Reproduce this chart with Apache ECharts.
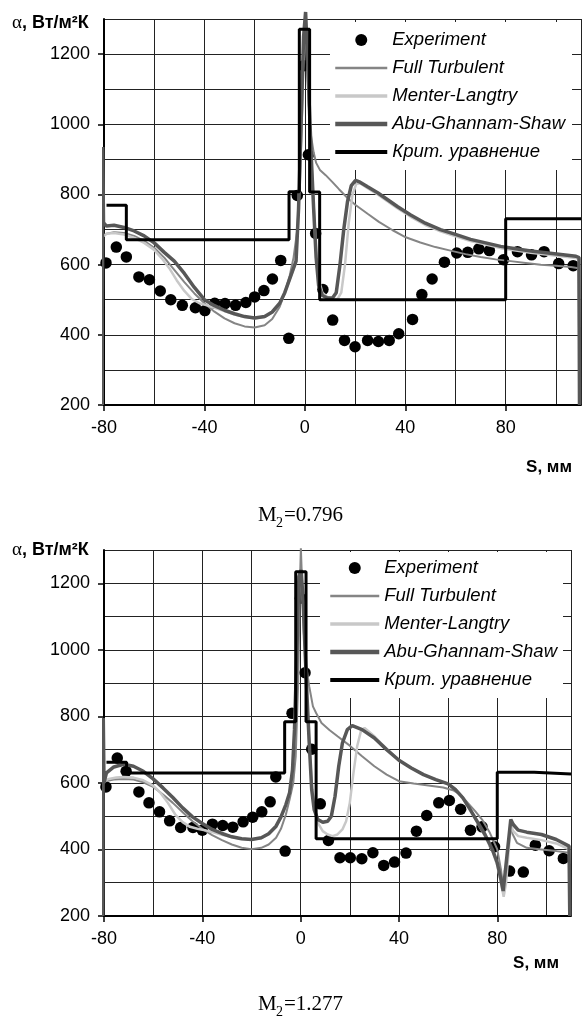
<!DOCTYPE html>
<html>
<head>
<meta charset="utf-8">
<script src="https://cdn.jsdelivr.net/npm/echarts@6/dist/echarts.min.js"></script>
<style>
	body { margin: 0; background: #fff; }
	#main { width: 582px; height: 1017px; }
</style>
</head>
<body>
<div id="main"></div>
<script>
// ===== M2 = 0.796 =====
var exp1S = [-79.2, -75.1, -71.1, -66.1, -61.9, -57.6, -53.4, -48.8, -43.6, -39.8, -35.9, -31.8, -27.6, -23.5, -20.0, -16.3, -12.9, -9.6, -6.4, -3.0,
	-0.4, 1.4, 4.3, 7.2, 11.1, 15.8, 20.0, 25.0, 29.3, 33.6, 37.4, 42.9, 46.6, 50.7, 55.6, 60.5, 64.9, 69.3, 73.5, 79.1, 84.7, 90.3, 95.3, 101.1, 106.9];
var exp1V = [605, 650, 622, 565, 557, 525, 500, 484, 477, 469, 490, 489, 484, 492, 508, 526, 559, 612, 390, 797,
	1167, 913, 689, 529, 442, 384, 366, 384, 381, 384, 403, 444, 515, 559, 607, 633, 635, 645, 640, 614, 637, 628, 637, 603, 597];

var ft1 = [[-80.5, 200], [-80.3, 680], [-79, 688], [-76, 692], [-72, 690], [-68, 682], [-64, 668], [-60, 648], [-56, 620], [-52, 585], [-48, 550],
	[-44, 518], [-40, 490], [-36, 466], [-32, 447], [-28, 433], [-24, 424], [-20, 421], [-16, 427], [-13, 445], [-10, 480], [-8, 520], [-6, 570],
	[-4.5, 620], [-3, 700], [-2, 820], [-1, 1050], [-0.3, 1250], [0.2, 1315], [0.8, 1200], [1.5, 1060], [2.3, 975], [3.5, 920], [4.5, 890], [6, 870],
	[8.3, 855], [11, 835], [13.6, 815], [17, 790], [20.2, 770], [25, 745], [29.5, 722], [35, 698], [40.2, 678], [46, 663], [52, 650], [58, 640],
	[64, 630], [70, 622], [76, 615], [82, 610], [88, 605], [94, 600], [100, 597], [106, 593], [109, 590], [109.4, 200]];

var ml1 = [[-82.3, 300], [-82, 420], [-81.5, 640], [-80.5, 680], [-79, 688], [-76, 690], [-72, 686], [-68, 676], [-64, 662], [-60, 642], [-57, 618],
	[-54, 590], [-51, 555], [-48, 525], [-45, 502], [-42, 490], [-39, 484], [-36, 477], [-32, 468], [-28, 458], [-24, 451], [-20, 447], [-16, 451],
	[-13, 464], [-10, 488], [-8, 518], [-6, 558], [-4.5, 588], [-3.5, 608], [-2.5, 760], [-1.5, 990], [-0.5, 1230], [0.3, 1290], [1, 1180],
	[1.8, 1040], [2.6, 900], [3.5, 770], [4.5, 640], [5.5, 560], [7, 520], [9, 508], [11, 502], [13, 502], [14.5, 520], [16, 600], [17.5, 720],
	[19, 800], [20.5, 830], [22, 832], [25, 818], [29, 800], [33, 780], [37, 760], [42, 737], [48, 713], [54, 695], [60, 681], [66, 667],
	[72, 657], [78, 647], [84, 640], [90, 634], [96, 629], [102, 624], [108, 619], [109.2, 615], [109.4, 200]];

var abu1 = [[-80.8, 200], [-80.5, 935], [-80.2, 720], [-79, 710], [-76, 712], [-72, 706], [-68, 696], [-64, 682], [-60, 662], [-56, 635], [-52, 610],
	[-48, 575], [-44, 535], [-40, 500], [-36, 483], [-32, 470], [-28, 460], [-24, 452], [-20, 448], [-16, 452], [-13, 465], [-10, 490], [-8, 520],
	[-6, 560], [-4.5, 590], [-3.5, 610], [-2.5, 760], [-1.5, 1000], [-0.5, 1250], [0.3, 1320], [1, 1200], [1.8, 1050], [2.6, 900], [3.5, 760],
	[4.5, 620], [5.5, 540], [7, 512], [9, 505], [11, 505], [12.5, 520], [14, 600], [15.5, 700], [17, 780], [18.5, 825], [20.2, 840], [22, 835],
	[25, 822], [29, 805], [33, 785], [37, 765], [42, 742], [48, 718], [54, 700], [60, 686], [66, 672], [72, 662], [78, 652], [84, 645], [90, 639],
	[96, 634], [102, 629], [108, 624], [109.2, 620], [109.4, 200]];

// ступеньки: значение действует от точки до следующей
var crit1 = [[-79, 769], [-71.1, 671], [-6.3, 808], [-2.2, 1271], [1.9, 807], [5.9, 500], [80, 731], [110, 731]];

// ===== M2 = 1.277 =====
var exp2S = [-79.2, -74.6, -71.0, -65.8, -61.7, -57.4, -53.3, -48.8, -43.8, -40.0, -35.9, -31.7, -27.6, -23.4, -19.5, -15.8, -12.4, -10.1, -6.3, -3.5,
	-0.1, 1.8, 4.5, 8.0, 11.3, 16.0, 20.2, 24.9, 29.4, 33.8, 38.2, 42.9, 47.1, 51.3, 56.2, 60.5, 65.1, 69.1, 73.8, 78.9, 85.0, 90.6, 95.5, 101.1, 106.9];
var exp2V = [588, 675, 635, 573, 540, 513, 486, 466, 466, 458, 476, 472, 467, 483, 497, 513, 543, 618, 395, 809,
	1155, 931, 701, 537, 427, 375, 375, 372, 390, 352, 362, 389, 455, 502, 540, 547, 521, 458, 468, 408, 335, 332, 413, 396, 373];

var ft2 = [[-81.8, 200], [-81.5, 560], [-80.5, 600], [-79, 606], [-76, 610], [-72, 612], [-68, 610], [-64, 602], [-60, 588], [-56, 565], [-52, 540],
	[-48, 512], [-44, 485], [-40, 462], [-36, 443], [-32, 428], [-28, 415], [-24, 405], [-20, 401], [-16, 405], [-13, 415], [-10, 435], [-8, 462],
	[-6, 505], [-4.5, 550], [-3, 600], [-2, 680], [-1, 900], [-0.3, 1200], [0.1, 1305], [0.6, 1200], [1.3, 1050], [2.3, 950], [3.5, 890], [5, 830],
	[6.3, 810], [8.5, 780], [11.7, 759], [15, 740], [20, 712], [25, 680], [30, 650], [35, 625], [40, 605], [46, 598], [52, 592], [58, 586],
	[62, 578], [65, 565], [68, 540], [71, 515], [74, 488], [77, 450], [80, 400], [81.5, 340], [82.5, 285], [83.5, 330], [85.2, 470], [86, 450],
	[88, 420], [92, 405], [98, 400], [104, 395], [109.2, 390], [109.5, 200]];

var ml2 = [[-82, 200], [-81.8, 450], [-81, 590], [-80, 605], [-78, 612], [-75, 616], [-72, 618], [-68, 616], [-64, 608], [-60, 592], [-57, 570],
	[-54, 540], [-51, 505], [-48, 482], [-45, 468], [-42, 462], [-39, 458], [-36, 452], [-32, 444], [-28, 437], [-24, 432], [-20, 430], [-16, 434],
	[-13, 446], [-10, 468], [-8, 496], [-6, 532], [-4.5, 566], [-3.3, 636], [-2.5, 750], [-1.5, 990], [-0.7, 1200], [0.2, 1225], [1, 1140],
	[1.8, 990], [2.6, 850], [3.5, 720], [4.5, 600], [5.5, 530], [7, 480], [9, 455], [11, 445], [13, 440], [15, 445], [17, 460], [18.5, 485],
	[20, 540], [21.5, 630], [23, 710], [24.5, 755], [26, 765], [30, 740], [35, 702], [40, 668], [45, 645], [50, 625], [55, 610], [60, 597],
	[63, 582], [66, 556], [69, 520], [72, 480], [75, 440], [78, 395], [80, 352], [81.5, 300], [82.6, 258], [83.6, 300], [85.5, 475], [86.5, 455],
	[88.5, 440], [92, 435], [98, 428], [104, 418], [109.2, 400], [109.5, 200]];

var abu2 = [[-80.5, 200], [-80.3, 795], [-80, 600], [-79, 630], [-76, 648], [-72, 656], [-68, 650], [-64, 635], [-60, 612], [-56, 585], [-52, 556],
	[-48, 525], [-44, 498], [-40, 478], [-36, 460], [-32, 448], [-28, 438], [-24, 432], [-20, 430], [-16, 435], [-13, 447], [-10, 470], [-8, 498],
	[-6, 535], [-4.5, 570], [-3.3, 640], [-2.5, 760], [-1.5, 1000], [-0.7, 1220], [0.2, 1240], [1, 1150], [1.8, 1000], [2.6, 860], [3.5, 720],
	[4.5, 580], [5.5, 520], [7, 490], [9, 482], [11, 485], [12.5, 500], [14, 560], [15.5, 650], [17, 720], [19, 760], [21, 772], [25, 760],
	[30, 735], [35, 700], [40, 668], [45, 645], [50, 625], [55, 610], [60, 597], [63, 580], [66, 555], [69, 520], [72, 482], [75, 445], [78, 400],
	[80, 360], [81.5, 310], [82.4, 275], [83.5, 350], [85.5, 490], [86.5, 475], [88.5, 458], [92, 452], [98, 445], [104, 430], [109.2, 410],
	[109.5, 200]];

var crit2 = [[-79, 662], [-70.8, 630], [-6.5, 784], [-2, 1235], [2.2, 784], [6.3, 432], [80, 632], [95, 627], [110, 627]];

var names = ['Experiment', 'Full Turbulent', 'Menter-Langtry', 'Abu-Ghannam-Shaw', 'Крит. уравнение'];
var captions = ['0.796', '1.277'];

function zip(s, v) {
	var out = [];
	for (var i = 0; i < s.length; i++) {
		out.push([s[i], v[i]]);
	}
	return out;
}

// две области графиков: положение и размер
var grids = [
	{ left: 104, top: 19, width: 477, height: 386 },
	{ left: 104, top: 550, width: 467, height: 366 }
];

var gridLine = { show: true, lineStyle: { color: '#222', width: 1 } };

function plainNumber(v) {
	return String(v);
}

function xAxisFor(i) {
	return {
		gridIndex: i,
		type: 'value',
		min: -80,
		max: 110,
		interval: 40,
		axisLine: { onZero: false, lineStyle: { color: '#000', width: 2 } },
		axisTick: { show: true, length: 6, lineStyle: { color: '#000', width: 1.5 } },
		axisLabel: { color: '#000', fontSize: 18, fontFamily: 'Liberation Sans', margin: 14, showMaxLabel: false, formatter: plainNumber },
		splitLine: gridLine,
		minorSplitLine: gridLine,
		minorTick: { show: false, splitNumber: 2 }
	};
}

function yAxisFor(i) {
	return {
		gridIndex: i,
		type: 'value',
		min: 200,
		max: 1300,
		interval: 200,
		axisLine: { show: true, onZero: false, lineStyle: { color: '#000', width: 2 } },
		axisTick: { show: true, length: 6, lineStyle: { color: '#000', width: 1.5 } },
		axisLabel: { color: '#000', fontSize: 18, fontFamily: 'Liberation Sans', margin: 14, showMaxLabel: false, formatter: plainNumber },
		splitLine: gridLine,
		minorSplitLine: gridLine,
		minorTick: { show: false, splitNumber: 2 }
	};
}

function lineSeries(i, name, data, color, width) {
	return {
		name: name,
		type: 'line',
		xAxisIndex: i,
		yAxisIndex: i,
		data: data,
		symbol: 'none',
		clip: false,
		lineStyle: { color: color, width: width },
		itemStyle: { color: color }
	};
}

var sets = [
	{ exp: zip(exp1S, exp1V), ft: ft1, ml: ml1, abu: abu1, crit: crit1 },
	{ exp: zip(exp2S, exp2V), ft: ft2, ml: ml2, abu: abu2, crit: crit2 }
];

var series = [];
for (var i = 0; i < 2; i++) {
	series.push(lineSeries(i, names[1], sets[i].ft, '#858585', 2));
	series.push(lineSeries(i, names[2], sets[i].ml, '#c8c8c8', 2.5));
	series.push(lineSeries(i, names[3], sets[i].abu, '#575757', 3.5));
	var c = lineSeries(i, names[4], sets[i].crit, '#000', 3);
	c.step = 'end';
	series.push(c);
	series.push({
		name: names[0],
		type: 'scatter',
		xAxisIndex: i,
		yAxisIndex: i,
		data: sets[i].exp,
		symbol: 'circle',
		symbolSize: 11.5,
		itemStyle: { color: '#000', opacity: 1 }
	});
}

// у линий в легенде точку не показываем, образцы линий чуть толще
var noDot = { opacity: 0 };
var legendData = [
	{ name: names[0], icon: 'circle', itemStyle: { color: '#000', opacity: 1 } },
	{ name: names[1], itemStyle: noDot, lineStyle: { width: 2.5 } },
	{ name: names[2], itemStyle: noDot, lineStyle: { width: 3.5 } },
	{ name: names[3], itemStyle: noDot, lineStyle: { width: 4.5 } },
	{ name: names[4], itemStyle: noDot, lineStyle: { width: 4 } }
];

function legendFor(left, top, itemWidth, padding) {
	return {
		left: left,
		top: top,
		orient: 'vertical',
		data: legendData,
		itemWidth: itemWidth,
		itemHeight: 12,
		itemGap: 8,
		padding: padding,
		backgroundColor: '#fff',
		selectedMode: false,
		textStyle: { color: '#000', fontSize: 18.5, fontStyle: 'italic', fontFamily: 'Liberation Sans', lineHeight: 20 }
	};
}

var graphic = [];
var axisTitleY = [26, 553];
var sTitle = [[572, 467], [559, 963]];
var capY = [515, 1004];
for (var i = 0; i < 2; i++) {
	graphic.push({
		type: 'text', left: 12, top: axisTitleY[i] - 12,
		style: {
			text: '{a|α}{b|, Вт/м²К}',
			rich: {
				a: { fontSize: 19, fontFamily: 'Liberation Serif', fill: '#000' },
				b: { fontSize: 18, fontWeight: 'bold', fontFamily: 'Liberation Sans', fill: '#000' }
			}
		}
	});
	graphic.push({
		type: 'text', x: sTitle[i][0], y: sTitle[i][1],
		style: { text: 'S, мм', fontSize: 17, fontWeight: 'bold', fontFamily: 'Liberation Sans', fill: '#000', align: 'right', verticalAlign: 'middle' }
	});
	// подпись M2=...
	graphic.push({
		type: 'text', x: 258, y: capY[i],
		style: { text: 'M', fontSize: 21, fontFamily: 'Liberation Serif', fill: '#000', align: 'left', verticalAlign: 'middle' }
	});
	graphic.push({
		type: 'text', x: 276, y: capY[i] + 8,
		style: { text: '2', fontSize: 14, fontFamily: 'Liberation Serif', fill: '#000', align: 'left', verticalAlign: 'middle' }
	});
	graphic.push({
		type: 'text', x: 284, y: capY[i],
		style: { text: '=' + captions[i], fontSize: 21, fontFamily: 'Liberation Serif', fill: '#000', align: 'left', verticalAlign: 'middle' }
	});
}

var chart = echarts.init(document.getElementById('main'));

option = {
	animation: false,
	backgroundColor: '#fff',
	grid: grids,
	xAxis: [xAxisFor(0), xAxisFor(1)],
	yAxis: [yAxisFor(0), yAxisFor(1)],
	legend: [
		legendFor(330, 22, 52, [8, 7, 8, 3]),
		legendFor(320, 552, 49, [6, 6, 8, 8])
	],
	series: series,
	graphic: graphic
};

chart.setOption(option);
</script>
</body>
</html>
